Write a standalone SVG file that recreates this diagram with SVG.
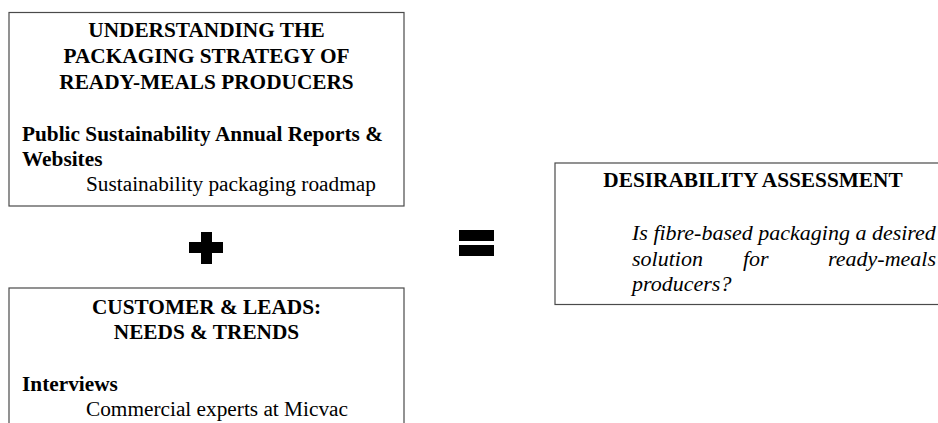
<svg xmlns="http://www.w3.org/2000/svg" width="938" height="423" viewBox="0 0 938 423">
  <style>
    .box { fill: #ffffff; stroke: #4a4a4a; stroke-width: 1.2; }
    .t { font-family: "Liberation Serif", "Times New Roman", serif; font-size: 21.3px; fill: #000; }
    .b { font-weight: bold; }
    .c { text-anchor: middle; }
    .i { font-style: italic; font-size: 22px; }
    .sym { fill: #000; }
  </style>
  <rect width="938" height="423" fill="#ffffff"/>

  <!-- Left top block: packaging strategy -->
  <g id="packaging-strategy">
    <rect class="box" x="9" y="12.5" width="395" height="193.5"/>
    <text class="t b c" x="206.5" y="37">UNDERSTANDING THE</text>
    <text class="t b c" x="206.5" y="63">PACKAGING STRATEGY OF</text>
    <text class="t b c" x="206.5" y="89">READY-MEALS PRODUCERS</text>
    <text class="t b" x="22" y="141">Public Sustainability Annual Reports &amp;</text>
    <text class="t b" x="22" y="166">Websites</text>
    <text class="t" x="86" y="191">Sustainability packaging roadmap</text>
  </g>

  <!-- Left bottom block: customers and leads -->
  <g id="customer-leads">
    <rect class="box" x="9" y="288" width="395" height="150"/>
    <text class="t b c" x="206.5" y="314">CUSTOMER &amp; LEADS:</text>
    <text class="t b c" x="206.5" y="339">NEEDS &amp; TRENDS</text>
    <text class="t b" x="22" y="391">Interviews</text>
    <text class="t" x="86" y="416">Commercial experts at Micvac</text>
  </g>

  <!-- Right block: desirability result -->
  <g id="desirability">
    <rect class="box" x="555" y="163" width="400" height="141.5"/>
    <text class="t b c" x="753" y="187">DESIRABILITY ASSESSMENT</text>
    <text class="t i" x="632" y="240">Is fibre-based packaging a desired</text>
    <text class="t i" y="266"><tspan x="632">solution</tspan><tspan x="743">for</tspan><tspan x="936" text-anchor="end">ready-meals</tspan></text>
    <text class="t i" x="632" y="291">producers?</text>
  </g>

  <!-- Operators between blocks -->
  <g id="operators">
    <g id="plus">
      <rect class="sym" x="189" y="242" width="34" height="11"/>
      <rect class="sym" x="201" y="232" width="11" height="32"/>
    </g>
    <g id="equals">
      <rect class="sym" x="459" y="230" width="35" height="11"/>
      <rect class="sym" x="459" y="245" width="35" height="11"/>
    </g>
  </g>
</svg>
